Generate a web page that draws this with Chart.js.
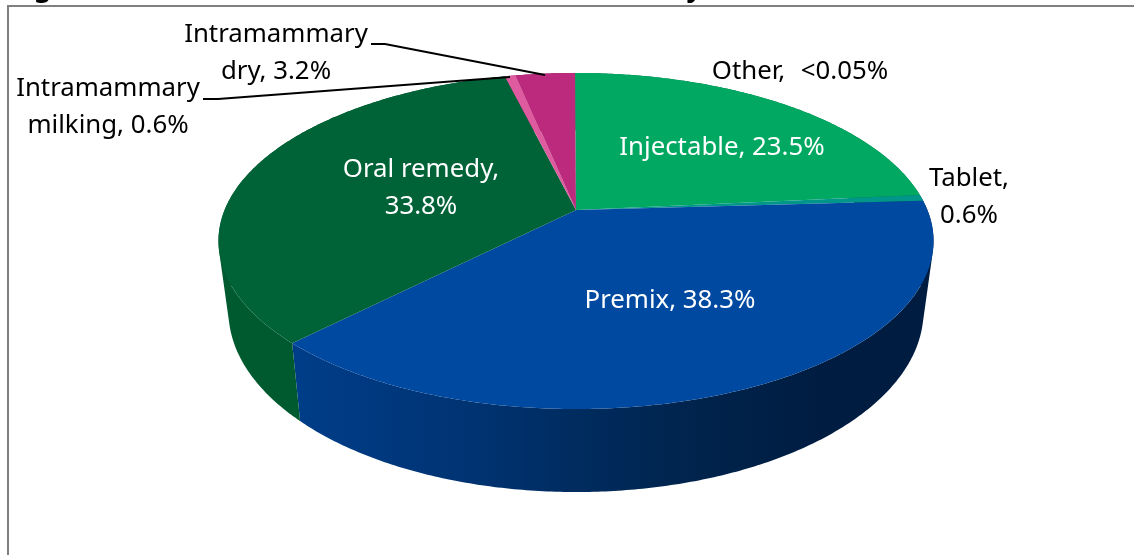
<!DOCTYPE html>
<html lang="en">
<head>
    <meta charset="UTF-8">
    <title>Pie chart</title>
    <script src="https://cdn.jsdelivr.net/npm/chart.js"></script>
    <style>
        html, body { margin: 0; padding: 0; background: #fff; overflow: hidden; }
        #wrap { position: relative; width: 1134px; height: 555px; }
    </style>
</head>
<body>
    <div id="wrap"><canvas id="pieChart"></canvas></div>

    <script>
        const categories = ['Injectable', 'Tablet', 'Premix', 'Oral remedy', 'Intramammary milking', 'Intramammary dry', 'Other'];
        const shares = [23.5, 0.6, 38.3, 33.8, 0.6, 3.2, 0.04];
        const shareLabels = ['23.5%', '0.6%', '38.3%', '33.8%', '0.6%', '3.2%', '<0.05%'];
        const topColors = ['#00a862', '#00968a', '#0049a0', '#006338', '#dd5b9e', '#bb2a7d', '#00a862'];
        const sideColors = ['#00703f', '#00665c', '#003a80', '#005a30', '#94386a', '#7c1c54', '#00703f'];

        // projection of the disc, fitted to the picture
        const pie = { cx: 576, cy: 210, a: 351.4, b: 162.3, k: 0.1845, depth: 67.7, shrink: 0.972 };

        function project(angle, lower) {
            const X = Math.cos(angle), Y = Math.sin(angle);
            const w = 1 - pie.k * Y;
            const sx = lower ? pie.shrink : 1;
            return {
                x: pie.cx + sx * pie.a * X / w,
                y: pie.cy + (pie.b * Y + (lower ? pie.depth : 0)) / w
            };
        }

        function tracePoints(ctx, start, end) {
            const steps = Math.max(2, Math.ceil(Math.abs(end - start) / 0.01));
            for (let i = 0; i <= steps; i++) {
                const p = project(start + (end - start) * i / steps, false);
                ctx.lineTo(p.x, p.y);
            }
        }

        // quads in one path, all wound the same way so the fold of the side does not cancel
        function drawSide(ctx, start, end, style) {
            const steps = Math.max(2, Math.ceil((end - start) / 0.01));
            ctx.beginPath();
            for (let i = 0; i < steps; i++) {
                const t0 = start + (end - start) * i / steps;
                const t1 = start + (end - start) * (i + 1) / steps;
                const q = [project(t0, false), project(t1, false), project(t1, true), project(t0, true)];
                let area = 0;
                q.forEach((p, j) => {
                    const n = q[(j + 1) % 4];
                    area += p.x * n.y - n.x * p.y;
                });
                if (area < 0) q.reverse();
                ctx.moveTo(q[0].x, q[0].y);
                ctx.lineTo(q[1].x, q[1].y);
                ctx.lineTo(q[2].x, q[2].y);
                ctx.lineTo(q[3].x, q[3].y);
                ctx.closePath();
            }
            ctx.fillStyle = style;
            ctx.fill();
        }

        const pie3d = {
            id: 'pie3d',
            beforeDatasetsDraw(chart) {
                const ctx = chart.ctx;
                const arcs = chart.getDatasetMeta(0).data;

                const blueSide = ctx.createLinearGradient(300, 0, 830, 0);
                blueSide.addColorStop(0, '#003d88');
                blueSide.addColorStop(0.3, '#003474');
                blueSide.addColorStop(0.7, '#00254f');
                blueSide.addColorStop(1, '#001c40');
                arcs.forEach((arc, i) => {
                    drawSide(ctx, arc.startAngle, arc.endAngle, i === 2 ? blueSide : sideColors[i]);
                });

                arcs.forEach((arc, i) => {
                    ctx.beginPath();
                    ctx.moveTo(pie.cx, pie.cy);
                    tracePoints(ctx, arc.startAngle, arc.endAngle);
                    ctx.closePath();
                    ctx.fillStyle = topColors[i];
                    ctx.fill();
                });
                return false;
            },
            afterDraw(chart) {
                const ctx = chart.ctx;
                ctx.save();

                // chart frame, the page cuts it off at the right and bottom
                ctx.strokeStyle = '#808080';
                ctx.lineWidth = 2;
                ctx.beginPath();
                ctx.moveTo(1134, 6);
                ctx.lineTo(8, 6);
                ctx.lineTo(8, 555);
                ctx.stroke();

                // figure title, only its descenders are left above the frame
                ctx.fillStyle = '#000';
                ctx.font = 'bold 27px "Noto Sans"';
                ctx.textBaseline = 'alphabetic';
                ctx.textAlign = 'left';
                ctx.fillText('Figure', 11, -3);
                ctx.textAlign = 'right';
                ctx.fillText('by', 702, -3);

                // leader lines
                ctx.strokeStyle = '#000';
                ctx.lineWidth = 2;
                ctx.beginPath();
                ctx.moveTo(371, 44); ctx.lineTo(385, 44); ctx.lineTo(545, 75);
                ctx.moveTo(203, 99); ctx.lineTo(218, 99); ctx.lineTo(510, 77);
                ctx.stroke();

                ctx.font = '25.8px "Noto Sans"';
                ctx.textAlign = 'center';
                ctx.textBaseline = 'middle';
                labelBoxes.forEach(l => {
                    ctx.fillStyle = l.color;
                    ctx.wordSpacing = l.gap || '0px';
                    const name = categories[l.i];
                    const value = shareLabels[l.i];
                    if (l.split) {
                        const parts = name.split(' ');
                        const head = parts.shift();
                        const rest = parts.length ? parts.join(' ') + ', ' + value : value;
                        ctx.fillText(head + (parts.length ? '' : ','), l.x, l.y);
                        ctx.fillText(rest, l.x, l.y + 37);
                    } else if (l.two) {
                        ctx.fillText(name + ',', l.x, l.y);
                        ctx.fillText(value, l.x, l.y + 37);
                    } else {
                        ctx.fillText(name + ', ' + value, l.x, l.y);
                    }
                });
                ctx.restore();
            }
        };

        const labelBoxes = [
            { i: 0, x: 722, y: 148, color: '#fff' },
            { i: 1, x: 969, y: 179, color: '#000', split: true },
            { i: 2, x: 670, y: 301, color: '#fff' },
            { i: 3, x: 421, y: 170, color: '#fff', two: true },
            { i: 4, x: 108, y: 89, color: '#000', split: true },
            { i: 5, x: 276, y: 35, color: '#000', split: true },
            { i: 6, x: 800, y: 72, color: '#000', gap: '9px' }
        ];

        new Chart(document.getElementById('pieChart'), {
            type: 'pie',
            data: {
                labels: categories,
                datasets: [{ data: shares, backgroundColor: topColors, borderWidth: 0 }]
            },
            options: {
                responsive: true,
                maintainAspectRatio: false,
                animation: false,
                plugins: { legend: { display: false }, tooltip: { enabled: false } }
            },
            plugins: [pie3d]
        });
    </script>
</body>
</html>
